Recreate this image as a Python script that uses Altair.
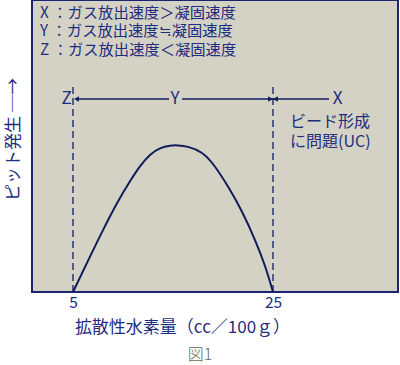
import altair as alt
import pandas as pd

# ---- data ----
curve_x = [5, 6.7, 8.0, 9.4, 10.7, 11.7, 12.7, 13.7, 14.7, 15.5, 16.5, 17.9, 19.2, 20.5, 21.9, 23.2, 24.2, 25]
curve_y = [0, 12.1, 21.2, 30.4, 37.9, 43.0, 46.9, 49.2, 50.1, 50.2, 49.7, 47.6, 42.9, 36.1, 27.5, 17.8, 8.9, 0]

boundary_x = [5, 25]
boundary_top = 70.2
range_y = 66.1
seg_start = [5.3, 15.9]
seg_end = [14.6, 30.6]

legend_lines = ["X ：ガス放出速度＞凝固速度", "Y ：ガス放出速度≒凝固速度", "Z ：ガス放出速度＜凝固速度"]
legend_y = [95.6, 89.3, 83.0]
legend_x = 1.7

zone_labels = ["Z", "Y", "X"]
zone_x = [4.35, 15.2, 31.45]

note_lines = ["ビード形成", "に問題(UC)"]
note_y = [58.3, 51.3]
note_x = 26.7

tick_values = [5, 25]
x_title = "拡散性水素量（cc／100ｇ）"
y_title = "ピット発生 ─→"
fig_caption = "図1"

NAVY = "#1f2c80"
LINE = "#121c5c"
FONT = "Noto Sans CJK JP"

xs = alt.Scale(domain=[0.9, 37.5], nice=False, zero=False)
ys = alt.Scale(domain=[0, 100], nice=False, zero=False)

x_axis = alt.Axis(
    values=tick_values, ticks=False, domain=False, grid=False, labelFontSize=15.5,
    labelColor=NAVY, labelFont=FONT, labelPadding=3, title=x_title, titleFont=FONT,
    titleFontSize=17, titleFontWeight="normal", titleColor=NAVY, titleX=150, titleY=35,
    titleBaseline="middle", titleAlign="center")
y_axis = alt.Axis(
    ticks=False, labels=False, domain=False, grid=False, title=y_title, titleFont=FONT,
    titleFontSize=17, titleFontWeight="normal", titleColor=NAVY, titleX=-19, titleY=139,
    titleBaseline="middle", titleAlign="center")


def X(field):
    return alt.X(field, type="quantitative", scale=xs, axis=x_axis)


def Y(field):
    return alt.Y(field, type="quantitative", scale=ys, axis=y_axis)


curve_df = pd.DataFrame({"x": curve_x, "y": curve_y})
curve = alt.Chart(curve_df).mark_line(color=LINE, strokeWidth=2, interpolate="natural").encode(
    x=X("x"), y=Y("y"))

bdf = pd.DataFrame({"x": boundary_x, "y0": [0, 0], "y1": [boundary_top] * 2})
dashed = alt.Chart(bdf).mark_rule(color=LINE, strokeWidth=1.3, strokeDash=[7, 4]).encode(
    x=X("x"), y=Y("y0"), y2="y1:Q")

sdf = pd.DataFrame({"x": seg_start, "x2": seg_end, "y": [range_y] * 2})
segs = alt.Chart(sdf).mark_rule(color=LINE, strokeWidth=1.6).encode(
    x=X("x"), x2="x2:Q", y=Y("y"))


def head(xv, shape):
    d = pd.DataFrame({"x": [xv], "y": [range_y]})
    return alt.Chart(d).mark_point(shape=shape, filled=True, color=LINE, size=30, opacity=1).encode(
        x=X("x"), y=Y("y"))


heads = head(5.35, "triangle-left") + head(24.75, "triangle-right") + head(25.25, "triangle-left")

ldf = pd.DataFrame({"t": legend_lines, "x": [legend_x] * 3, "y": legend_y})
legend = alt.Chart(ldf).mark_text(align="left", baseline="middle", font=FONT, fontSize=15.3, color=NAVY).encode(
    x=X("x"), y=Y("y"), text="t:N")

zdf = pd.DataFrame({"t": zone_labels, "x": zone_x, "y": [range_y] * 3})
zones = alt.Chart(zdf).mark_text(align="center", baseline="middle", font=FONT, fontSize=17, color=NAVY).encode(
    x=X("x"), y=Y("y"), text="t:N")

ndf = pd.DataFrame({"t": note_lines, "x": [note_x] * 2, "y": note_y})
notes = alt.Chart(ndf).mark_text(align="left", baseline="middle", font=FONT, fontSize=16, color=NAVY).encode(
    x=X("x"), y=Y("y"), text="t:N")

cdf = pd.DataFrame({"t": [fig_caption]})
caption = alt.Chart(cdf).mark_text(align="center", baseline="middle", font=FONT, fontSize=16,
                                   fontWeight=300, color="#6c6a4c").encode(
    x=alt.value(168), y=alt.value(355), text="t:N")

chart = alt.layer(dashed, curve, segs, heads, legend, zones, notes, caption).properties(
    width=366, height=292,
    autosize=alt.AutoSizeParams(type="none"),
    padding={"left": 32, "top": 0, "right": 2, "bottom": 73},
    background="white",
).configure_view(fill="#d4d2c4", stroke="#1a2470", strokeWidth=2)

chart.save("out.html", embed_options={"renderer": "svg", "actions": False})
